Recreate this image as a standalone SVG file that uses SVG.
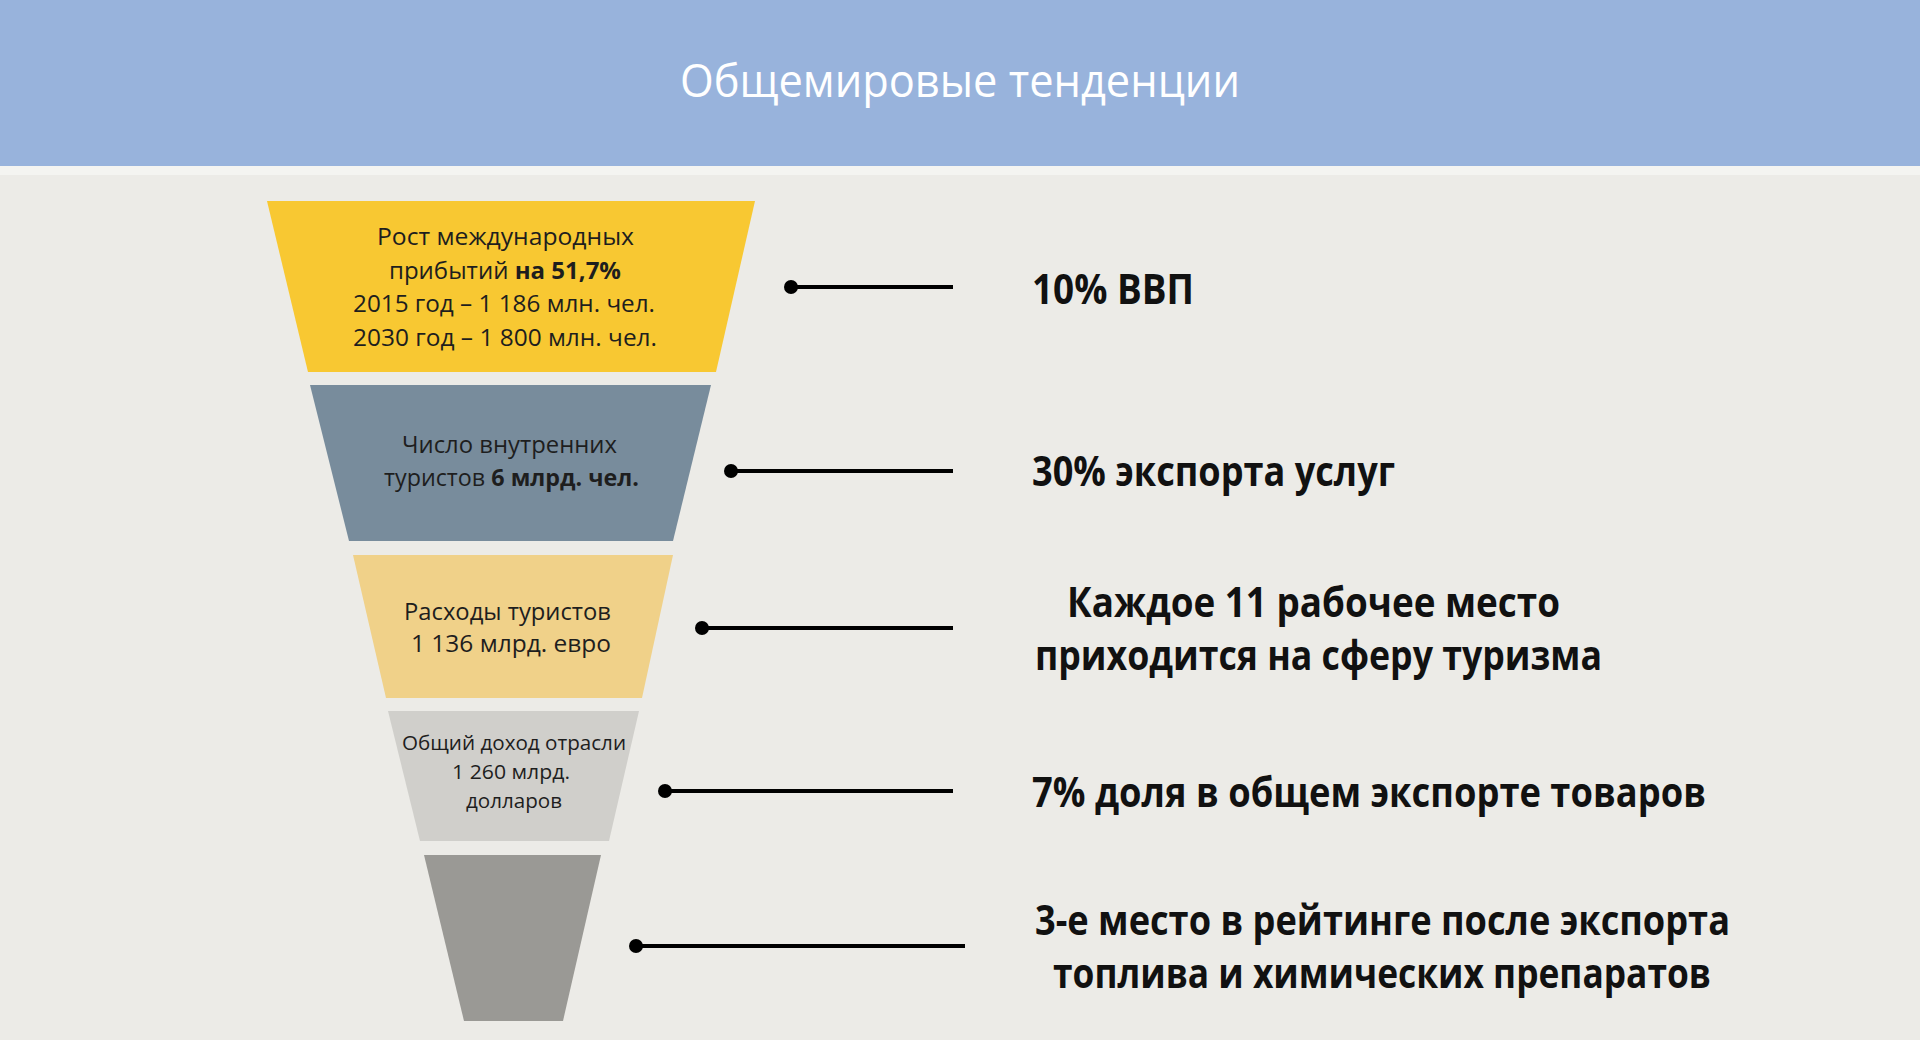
<svg xmlns="http://www.w3.org/2000/svg" width="1920" height="1040" viewBox="0 0 1920 1040">
<style>
.ft{font-family:"Open Sans","Noto Sans","Liberation Sans",sans-serif;font-size:23px;fill:#1e1e1e}
.fs{font-family:"Open Sans","Noto Sans","Liberation Sans",sans-serif;font-size:20px;fill:#1e1e1e}
.b{font-weight:700}
.lbl{font-family:"Open Sans","Noto Sans","Liberation Sans",sans-serif;font-size:42px;font-weight:700;fill:#111}
.con line{stroke:#000;stroke-width:4}
.con circle{fill:#000}
</style>
<rect x="0" y="0" width="1920" height="1040" fill="#ECEBE7"/>
<rect x="0" y="0" width="1920" height="166" fill="#98B3DC"/>
<rect x="0" y="166" width="1920" height="9" fill="#F4F4F1"/>
<text x="960" y="97" text-anchor="middle" font-family="Open Sans, Noto Sans, sans-serif" font-size="46" fill="#FFFFFF" textLength="560" lengthAdjust="spacingAndGlyphs">Общемировые тенденции</text>

<g id="stage1">
<polygon points="267,201 755,201 716,372 308,372" fill="#F8C832"/>
<text class="ft" x="377" y="245" textLength="257" lengthAdjust="spacingAndGlyphs">Рост международных</text>
<text class="ft" x="389" y="279" textLength="232" lengthAdjust="spacingAndGlyphs">прибытий <tspan class="b">на 51,7%</tspan></text>
<text class="ft" x="353" y="312" textLength="302" lengthAdjust="spacingAndGlyphs">2015 год – 1 186 млн. чел.</text>
<text class="ft" x="353" y="346" textLength="304" lengthAdjust="spacingAndGlyphs">2030 год – 1 800 млн. чел.</text>
</g>
<g id="stage2">
<polygon points="310,385 711,385 673,541 349,541" fill="#788C9C"/>
<text class="ft" x="402" y="453" textLength="215" lengthAdjust="spacingAndGlyphs">Число внутренних</text>
<text class="ft" x="384" y="486" textLength="255" lengthAdjust="spacingAndGlyphs">туристов <tspan class="b">6 млрд. чел.</tspan></text>
</g>
<g id="stage3">
<polygon points="353,555 673,555 642,698 386,698" fill="#F0D189"/>
<text class="ft" x="404" y="620" textLength="207" lengthAdjust="spacingAndGlyphs">Расходы туристов</text>
<text class="ft" x="411" y="652" textLength="200" lengthAdjust="spacingAndGlyphs">1 136 млрд. евро</text>
</g>
<g id="stage4">
<polygon points="388,711 639,711 609,841 420,841" fill="#D0CFCB"/>
<text class="fs" x="402" y="750" textLength="224" lengthAdjust="spacingAndGlyphs">Общий доход отрасли</text>
<text class="fs" x="452" y="779" textLength="118" lengthAdjust="spacingAndGlyphs">1 260 млрд.</text>
<text class="fs" x="466" y="808" textLength="96" lengthAdjust="spacingAndGlyphs">долларов</text>
</g>
<g id="stage5">
<polygon points="424,855 601,855 563,1021 464,1021" fill="#9A9995"/>
</g>

<g id="connectors" class="con">
<line x1="791" y1="287" x2="953" y2="287"/><circle cx="791" cy="287" r="7"/>
<line x1="731" y1="471" x2="953" y2="471"/><circle cx="731" cy="471" r="7"/>
<line x1="702" y1="628" x2="953" y2="628"/><circle cx="702" cy="628" r="7"/>
<line x1="665" y1="791" x2="953" y2="791"/><circle cx="665" cy="791" r="7"/>
<line x1="636" y1="946" x2="965" y2="946"/><circle cx="636" cy="946" r="7"/>
</g>

<g id="labels">
<text class="lbl" x="1032" y="304" textLength="162" lengthAdjust="spacingAndGlyphs">10% ВВП</text>
<text class="lbl" x="1032" y="486" textLength="363" lengthAdjust="spacingAndGlyphs">30% экспорта услуг</text>
<text class="lbl" x="1067" y="617" textLength="493" lengthAdjust="spacingAndGlyphs">Каждое 11 рабочее место</text>
<text class="lbl" x="1035" y="670" textLength="567" lengthAdjust="spacingAndGlyphs">приходится на сферу туризма</text>
<text class="lbl" x="1032" y="807" textLength="674" lengthAdjust="spacingAndGlyphs">7% доля в общем экспорте товаров</text>
<text class="lbl" x="1035" y="935" textLength="695" lengthAdjust="spacingAndGlyphs">3-е место в рейтинге после экспорта</text>
<text class="lbl" x="1053" y="988" textLength="658" lengthAdjust="spacingAndGlyphs">топлива и химических препаратов</text>
</g>
</svg>
